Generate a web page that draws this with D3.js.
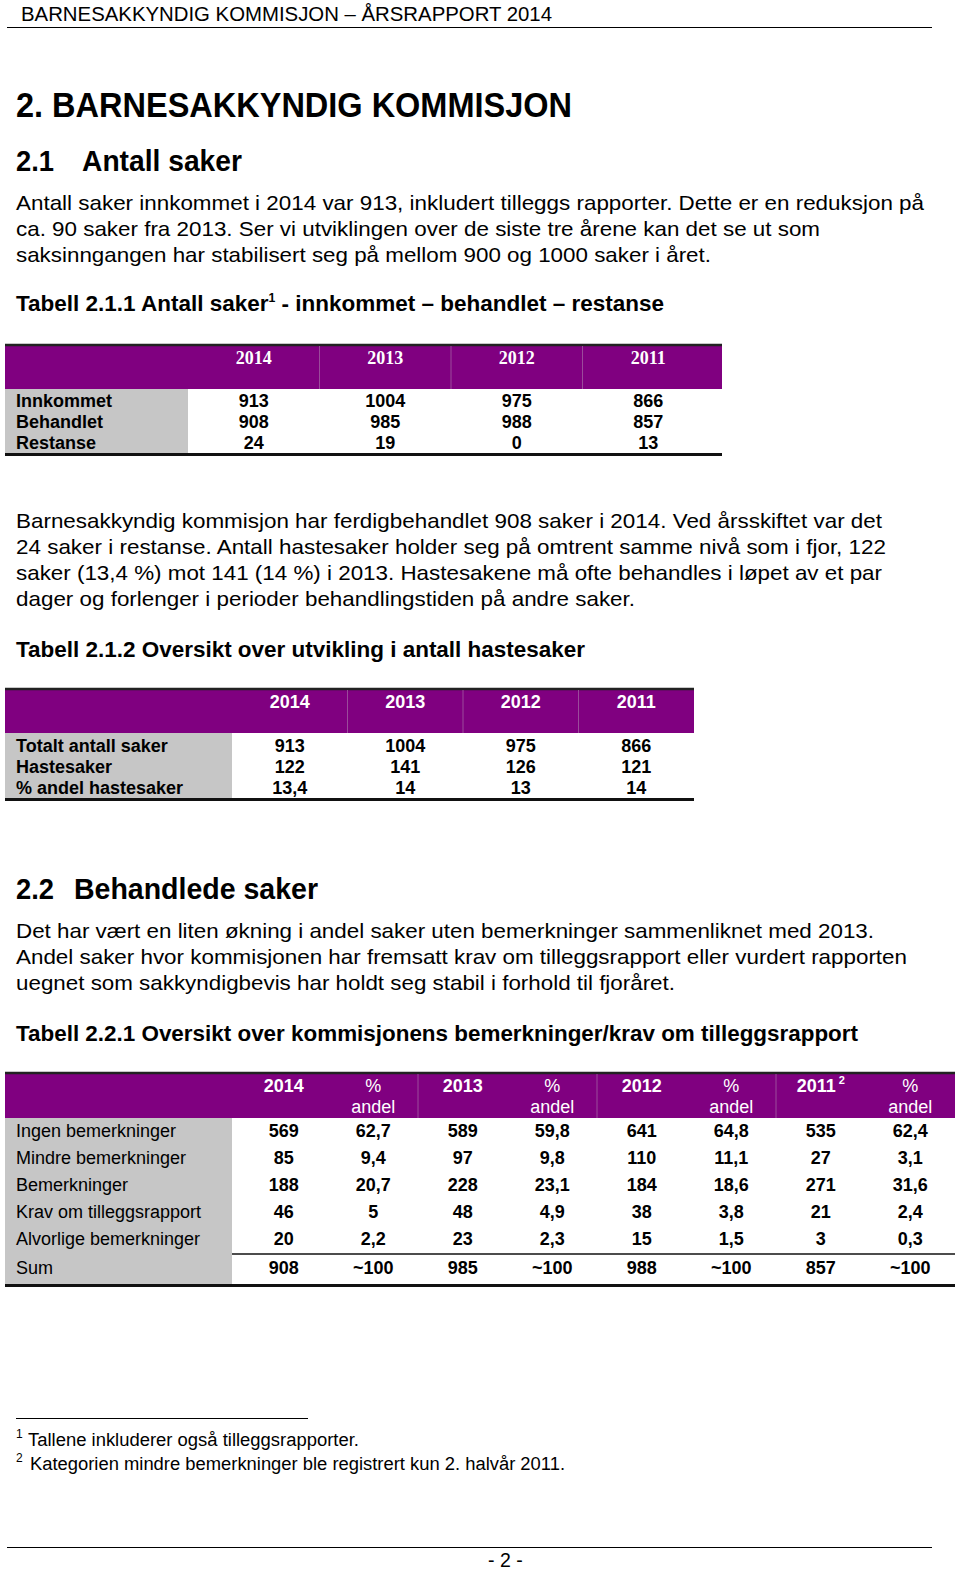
<!DOCTYPE html>
<html lang="no">
<head>
<meta charset="UTF-8">
<title>Årsrapport 2014</title>
<script src="https://cdn.jsdelivr.net/npm/d3@7"></script>
<style>
  body { margin: 0; background: #fff; }
  svg text { font-family: "Liberation Sans", Arial, sans-serif; fill: #000; }
  .b { font-weight: bold; }
  .serif { font-family: "Liberation Serif", "Times New Roman", serif; }
</style>
</head>
<body>
<svg id="page" width="960" height="1570"></svg>
<script>
// ---- text of the page ----
var runningHead = "BARNESAKKYNDIG KOMMISJON – ÅRSRAPPORT 2014";
var para1 = [
    "Antall saker innkommet i 2014 var 913, inkludert tilleggs rapporter. Dette er en reduksjon på",
    "ca. 90 saker fra 2013. Ser vi utviklingen over de siste tre årene kan det se ut som",
    "saksinngangen har stabilisert seg på mellom 900 og 1000 saker i året."
];
var para2 = [
    "Barnesakkyndig kommisjon har ferdigbehandlet 908 saker i 2014. Ved årsskiftet var det",
    "24 saker i restanse. Antall hastesaker holder seg på omtrent samme nivå som i fjor, 122",
    "saker (13,4 %) mot 141 (14 %) i 2013. Hastesakene må ofte behandles i løpet av et par",
    "dager og forlenger i perioder behandlingstiden på andre saker."
];
var para3 = [
    "Det har vært en liten økning i andel saker uten bemerkninger sammenliknet med 2013.",
    "Andel saker hvor kommisjonen har fremsatt krav om tilleggsrapport eller vurdert rapporten",
    "uegnet som sakkyndigbevis har holdt seg stabil i forhold til fjoråret."
];
var footnotes = [
    "Tallene inkluderer også tilleggsrapporter.",
    "Kategorien mindre bemerkninger ble registrert kun 2. halvår 2011."
];

// ---- table 2.1.1 ----
var t1Years = ["2014", "2013", "2012", "2011"];
var t1Rows = ["Innkommet", "Behandlet", "Restanse"];
var t1Innkommet = [913, 1004, 975, 866];
var t1Behandlet = [908, 985, 988, 857];
var t1Restanse = [24, 19, 0, 13];

// ---- table 2.1.2 ----
var t2Years = ["2014", "2013", "2012", "2011"];
var t2Rows = ["Totalt antall saker", "Hastesaker", "% andel hastesaker"];
var t2Totalt = [913, 1004, 975, 866];
var t2Haste = [122, 141, 126, 121];
var t2Andel = ["13,4", "14", "13", "14"];

// ---- table 2.2.1 ----
var t3Cols = ["2014", "% andel", "2013", "% andel", "2012", "% andel", "2011", "% andel"];
var t3Rows = ["Ingen bemerkninger", "Mindre bemerkninger", "Bemerkninger",
              "Krav om tilleggsrapport", "Alvorlige bemerkninger"];
var t3Ingen = ["569", "62,7", "589", "59,8", "641", "64,8", "535", "62,4"];
var t3Mindre = ["85", "9,4", "97", "9,8", "110", "11,1", "27", "3,1"];
var t3Bem = ["188", "20,7", "228", "23,1", "184", "18,6", "271", "31,6"];
var t3Krav = ["46", "5", "48", "4,9", "38", "3,8", "21", "2,4"];
var t3Alv = ["20", "2,2", "23", "2,3", "15", "1,5", "3", "0,3"];
var t3Sum = ["908", "~100", "985", "~100", "988", "~100", "857", "~100"];

var purple = "#800080",
    grey = "#c6c6c6";

var svg = d3.select("#page");

// squeeze a text element to a wanted width, like the narrow pdf font
function fit(sel, w) {
    var n = sel.node().getComputedTextLength();
    if (w && Math.abs(n - w) > 2) {
        sel.attr("textLength", w).attr("lengthAdjust", "spacingAndGlyphs");
    }
    return sel;
}

function line(text, x, y, size, cls, w) {
    var t = svg.append("text")
        .attr("x", x).attr("y", y)
        .attr("font-size", size)
        .attr("class", cls || null)
        .text(text);
    return fit(t, w);
}

function paragraph(lines, x, y0, step, size, widths) {
    lines.forEach(function (s, i) {
        line(s, x, y0 + i * step, size, null, widths[i]);
    });
}

// running head
line(runningHead, 21, 21, 19.5, null, 531);
svg.append("line").attr("x1", 7).attr("x2", 932).attr("y1", 27.5).attr("y2", 27.5)
    .attr("stroke", "#000").attr("stroke-width", 1.2);

line("2. BARNESAKKYNDIG KOMMISJON", 16, 117, 35, "b", 556);
line("2.1", 16, 171, 29, "b", 38);
line("Antall saker", 82, 171, 29, "b", 160);

paragraph(para1, 16, 210, 26, 21, [908, 804, 695]);

var cap1 = svg.append("text").attr("x", 16).attr("y", 311).attr("font-size", 22).attr("class", "b");
cap1.append("tspan").text("Tabell 2.1.1 Antall saker");
cap1.append("tspan").attr("font-size", 12).attr("dy", -9).text("1");
cap1.append("tspan").attr("dy", 9).text(" - innkommet – behandlet – restanse");
fit(cap1, 648);

// generic table drawer
function table(opt) {
    var g = svg.append("g");
    var x = d3.scaleBand().domain(d3.range(opt.cols.length)).range([opt.left, opt.right]);
    var y = d3.scalePoint().domain(d3.range(opt.rows.length)).range([opt.rowY0, opt.rowY0 + (opt.rows.length - 1) * opt.rowStep]);

    // header band
    g.append("rect").attr("x", opt.x0).attr("y", opt.top).attr("width", opt.x1 - opt.x0)
        .attr("height", opt.headH).attr("fill", purple);
    g.append("line").attr("x1", opt.x0).attr("x2", opt.x1).attr("y1", opt.top).attr("y2", opt.top)
        .attr("stroke", "#222").attr("stroke-width", 2.5);
    // label column
    g.append("rect").attr("x", opt.x0).attr("y", opt.top + opt.headH)
        .attr("width", opt.labelW - opt.x0).attr("height", opt.bottom - opt.top - opt.headH)
        .attr("fill", grey);
    // faint cell borders inside the header
    g.selectAll("line.sep").data(opt.seps).enter().append("line")
        .attr("class", "sep")
        .attr("x1", function (d) { return x(d); }).attr("x2", function (d) { return x(d); })
        .attr("y1", opt.top + 1).attr("y2", opt.top + opt.headH)
        .attr("stroke", "#9b4a9b").attr("stroke-width", 1);

    // header labels
    var head = g.selectAll("text.head").data(opt.cols).enter().append("text")
        .attr("class", "head " + (opt.headCls || "b"))
        .attr("text-anchor", "middle")
        .attr("font-size", opt.headSize || 18)
        .attr("x", function (d, i) { return x(i) + x.bandwidth() / 2; })
        .attr("y", opt.headY)
        .style("fill", "#fff");
    head.each(function (d) {
        var t = d3.select(this);
        if (d.indexOf("%") === 0) {
            t.classed("b", false).attr("text-anchor", "middle");
            t.append("tspan").attr("x", t.attr("x")).text("%");
            t.append("tspan").attr("x", t.attr("x")).attr("dy", 21).text("andel");
        } else {
            t.append("tspan").text(d);
            if (opt.supCol === d) {
                t.append("tspan").attr("font-size", 11).attr("dy", -8).text(" 2");
            }
        }
    });

    // row labels
    g.selectAll("text.rlab").data(opt.rows).enter().append("text")
        .attr("class", "rlab " + (opt.labelCls || ""))
        .attr("x", opt.x0 + 11).attr("y", function (d, i) { return y(i); })
        .attr("font-size", opt.size || 18)
        .text(function (d) { return d; });

    // values
    opt.values.forEach(function (vals, r) {
        g.selectAll(null).data(vals).enter().append("text")
            .attr("class", "b")
            .attr("text-anchor", "middle")
            .attr("font-size", opt.size || 18)
            .attr("x", function (d, i) { return x(i) + x.bandwidth() / 2; })
            .attr("y", y(r))
            .text(function (d) { return d; });
    });

    g.append("line").attr("x1", opt.x0).attr("x2", opt.x1).attr("y1", opt.bottom).attr("y2", opt.bottom)
        .attr("stroke", "#111").attr("stroke-width", 3);
    return { g: g, x: x, y: y };
}

table({
    cols: t1Years, rows: t1Rows,
    values: [t1Innkommet, t1Behandlet, t1Restanse],
    x0: 5, x1: 722, labelW: 188, left: 188, right: 714,
    top: 345, headH: 44, headY: 364, headCls: "b serif", headSize: 18,
    rowY0: 407, rowStep: 21, bottom: 454.5, seps: [1, 2, 3], labelCls: "b"
});

paragraph(para2, 16, 528, 26, 21, [866, 870, 866, 619]);
line("Tabell 2.1.2 Oversikt over utvikling i antall hastesaker", 16, 657, 22, "b", 569);

table({
    cols: t2Years, rows: t2Rows,
    values: [t2Totalt, t2Haste, t2Andel],
    x0: 5, x1: 694, labelW: 232, left: 232, right: 694,
    top: 689, headH: 44, headY: 708, headSize: 18,
    rowY0: 752, rowStep: 21, bottom: 799.5, seps: [1, 2, 3], labelCls: "b"
});

line("2.2", 16, 899, 29, "b", 38);
line("Behandlede saker", 74, 899, 29, "b", 244);

paragraph(para3, 16, 938, 26, 21, [858, 891, 659]);
line("Tabell 2.2.1 Oversikt over kommisjonens bemerkninger/krav om tilleggsrapport", 16, 1041, 22, "b", 842);

var t3 = table({
    cols: t3Cols, rows: t3Rows.concat(["Sum"]),
    values: [t3Ingen, t3Mindre, t3Bem, t3Krav, t3Alv],
    x0: 5, x1: 955, labelW: 232, left: 239, right: 955,
    top: 1073, headH: 45, headY: 1092, headSize: 18, supCol: "2011",
    rowY0: 1137, rowStep: 27, bottom: 1285.5, seps: [2, 4, 6], size: 18
});
// sum row sits below a rule
t3.g.append("line").attr("x1", 232).attr("x2", 955).attr("y1", 1254).attr("y2", 1254)
    .attr("stroke", "#111").attr("stroke-width", 1.5);
t3.g.selectAll("text.rlab").filter(function (d) { return d === "Sum"; }).attr("y", 1274);
t3.g.selectAll(null).data(t3Sum).enter().append("text")
    .attr("class", "b").attr("text-anchor", "middle").attr("font-size", 18)
    .attr("x", function (d, i) { return t3.x(i) + t3.x.bandwidth() / 2; })
    .attr("y", 1274)
    .text(function (d) { return d; });

// footnotes
svg.append("line").attr("x1", 16).attr("x2", 308).attr("y1", 1418.5).attr("y2", 1418.5)
    .attr("stroke", "#000").attr("stroke-width", 1.2);
footnotes.forEach(function (s, i) {
    var yy = 1446 + i * 24;
    line(String(i + 1), 16, yy - 8, 12);
    line(s, i === 0 ? 28 : 30, yy, 18, null, i === 0 ? 331 : 535);
});

svg.append("line").attr("x1", 7).attr("x2", 932).attr("y1", 1547.5).attr("y2", 1547.5)
    .attr("stroke", "#000").attr("stroke-width", 1.2);
line("- 2 -", 488, 1567, 19.5, null, 36);
</script>
</body>
</html>
